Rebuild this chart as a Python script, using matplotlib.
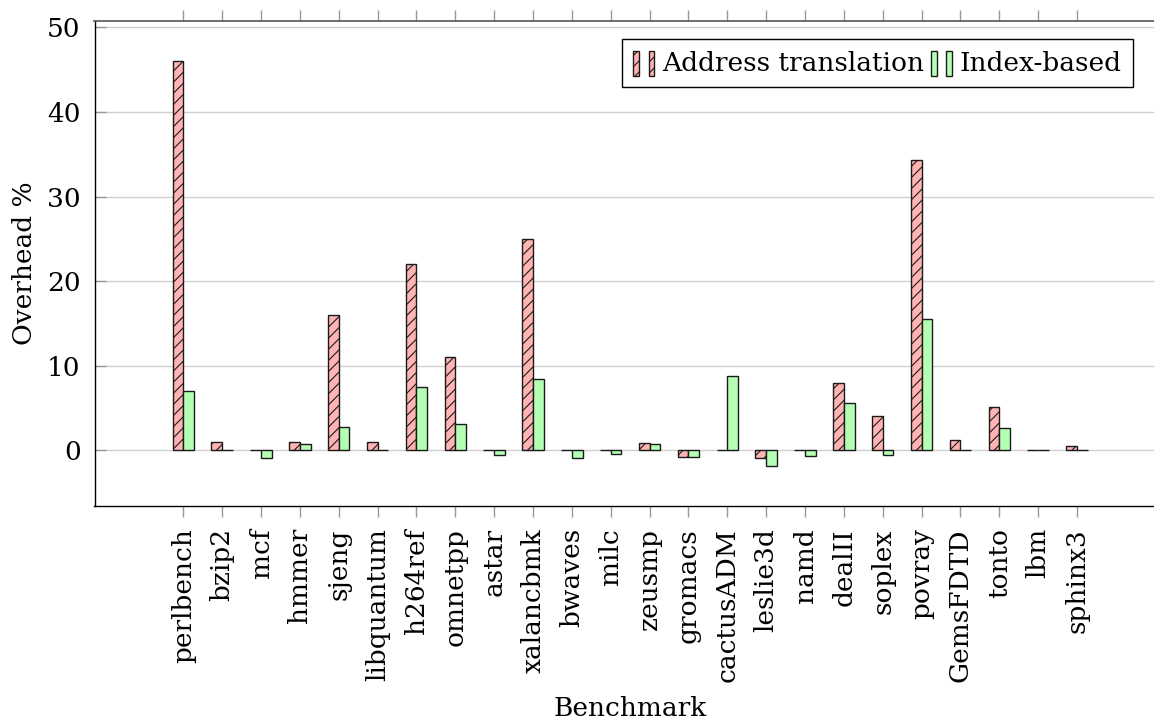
import matplotlib
matplotlib.use("Agg")
import matplotlib.pyplot as plt
import numpy as np
from matplotlib.legend_handler import HandlerBase
from matplotlib.patches import Rectangle

benchmarks = ["perlbench", "bzip2", "mcf", "hmmer", "sjeng", "libquantum",
              "h264ref", "omnetpp", "astar", "xalancbmk", "bwaves", "milc",
              "zeusmp", "gromacs", "cactusADM", "leslie3d", "namd", "dealII",
              "soplex", "povray", "GemsFDTD", "tonto", "lbm", "sphinx3"]
address_translation = [46.0, 1.0, 0.0, 1.0, 16.0, 1.0, 22.0, 11.0, 0.0, 25.0,
                       0.0, 0.0, 0.85, -0.8, 0.0, -0.9, 0.0, 8.0, 4.0, 34.3,
                       1.2, 5.1, 0.0, 0.55]
index_based = [7.05, 0.0, -0.9, 0.8, 2.7, 0.0, 7.5, 3.1, -0.5, 8.4,
               -0.95, -0.4, 0.8, -0.8, 8.8, -1.85, -0.7, 5.6, -0.6, 15.5,
               0.0, 2.6, 0.0, 0.0]
series_names = ["Address translation", "Index-based"]
y_ticks = [0, 10, 20, 30, 40, 50]

plt.rcParams["font.family"] = ["DejaVu Serif"]
plt.rcParams["hatch.linewidth"] = 0.8

FS = 19
fig = plt.figure(figsize=(11.54, 7.22), dpi=100)
W, H = 1154, 722
left, right, top, bottom = 94.5, 1166, 20.7, 506
ax = fig.add_axes([left / W, 1 - bottom / H, (right - left) / W, (bottom - top) / H])

x = np.arange(len(benchmarks))
bw = 0.276
bars_a = ax.bar(x - bw / 2, address_translation, bw, facecolor="#ffb3b3",
                edgecolor="#1a1a1a", linewidth=1.0, hatch="///", zorder=3,
                label=series_names[0])
bars_b = ax.bar(x + bw / 2, index_based, bw, facecolor="#b3ffb3",
                edgecolor="#1a1a1a", linewidth=1.0, zorder=3,
                label=series_names[1])

ax.set_xlim(-2.286, 25.29)
ax.set_ylim(-6.58, 50.78)
ax.set_yticks(y_ticks)
ax.set_xticks(x)
ax.set_xticklabels(benchmarks, rotation=90, fontsize=FS)
ax.tick_params(axis="y", direction="in", length=8, width=1, color="#999999",
               labelsize=FS, pad=10, right=False)
ax.tick_params(axis="x", direction="out", length=8, width=1, color="#999999",
               top=True, bottom=True, labeltop=False, pad=8)
ax.yaxis.grid(True, color="#d0d0d0", linewidth=1.0, zorder=0)
ax.set_axisbelow(True)

for side in ("left", "bottom"):
    ax.spines[side].set_color("black")
    ax.spines[side].set_linewidth(1.0)
ax.spines["top"].set_color("#555555")
ax.spines["top"].set_linewidth(1.2)

ax.set_ylabel("Overhead %", fontsize=FS)
ax.yaxis.set_label_coords(-0.054, 0.5)
ax.set_xlabel("Benchmark", fontsize=FS)
ax.xaxis.label.set_va("baseline")
ax.xaxis.set_label_coords(0.5, -(716 - bottom) / (bottom - top))


class TwoBarHandler(HandlerBase):
    """Legend key made of two small bars, like a grouped-bar legend image."""

    def create_artists(self, legend, orig_handle, xdescent, ydescent,
                       width, height, fontsize, trans):
        src = orig_handle.patches[0]
        w = 0.27 * width
        arts = []
        for x0 in (0.0, width - w):
            r = Rectangle((x0 - xdescent, -ydescent - 0.05 * height), w, height,
                          facecolor=src.get_facecolor(),
                          edgecolor=src.get_edgecolor(),
                          linewidth=1.0, hatch=src.get_hatch(),
                          transform=trans)
            arts.append(r)
        return arts


leg = ax.legend([bars_a, bars_b], series_names, ncol=2, fontsize=FS,
                loc="upper right", bbox_to_anchor=(1133 / W, 1 - 38.8 / H),
                bbox_transform=fig.transFigure, borderaxespad=0,
                handler_map={bars_a: TwoBarHandler(), bars_b: TwoBarHandler()},
                handlelength=0.8, handleheight=1.05, handletextpad=0.3,
                columnspacing=0.25, borderpad=0.42, fancybox=False,
                framealpha=1, edgecolor="black")
leg.get_frame().set_linewidth(1.0)

fig.savefig("out.png", dpi=100)
